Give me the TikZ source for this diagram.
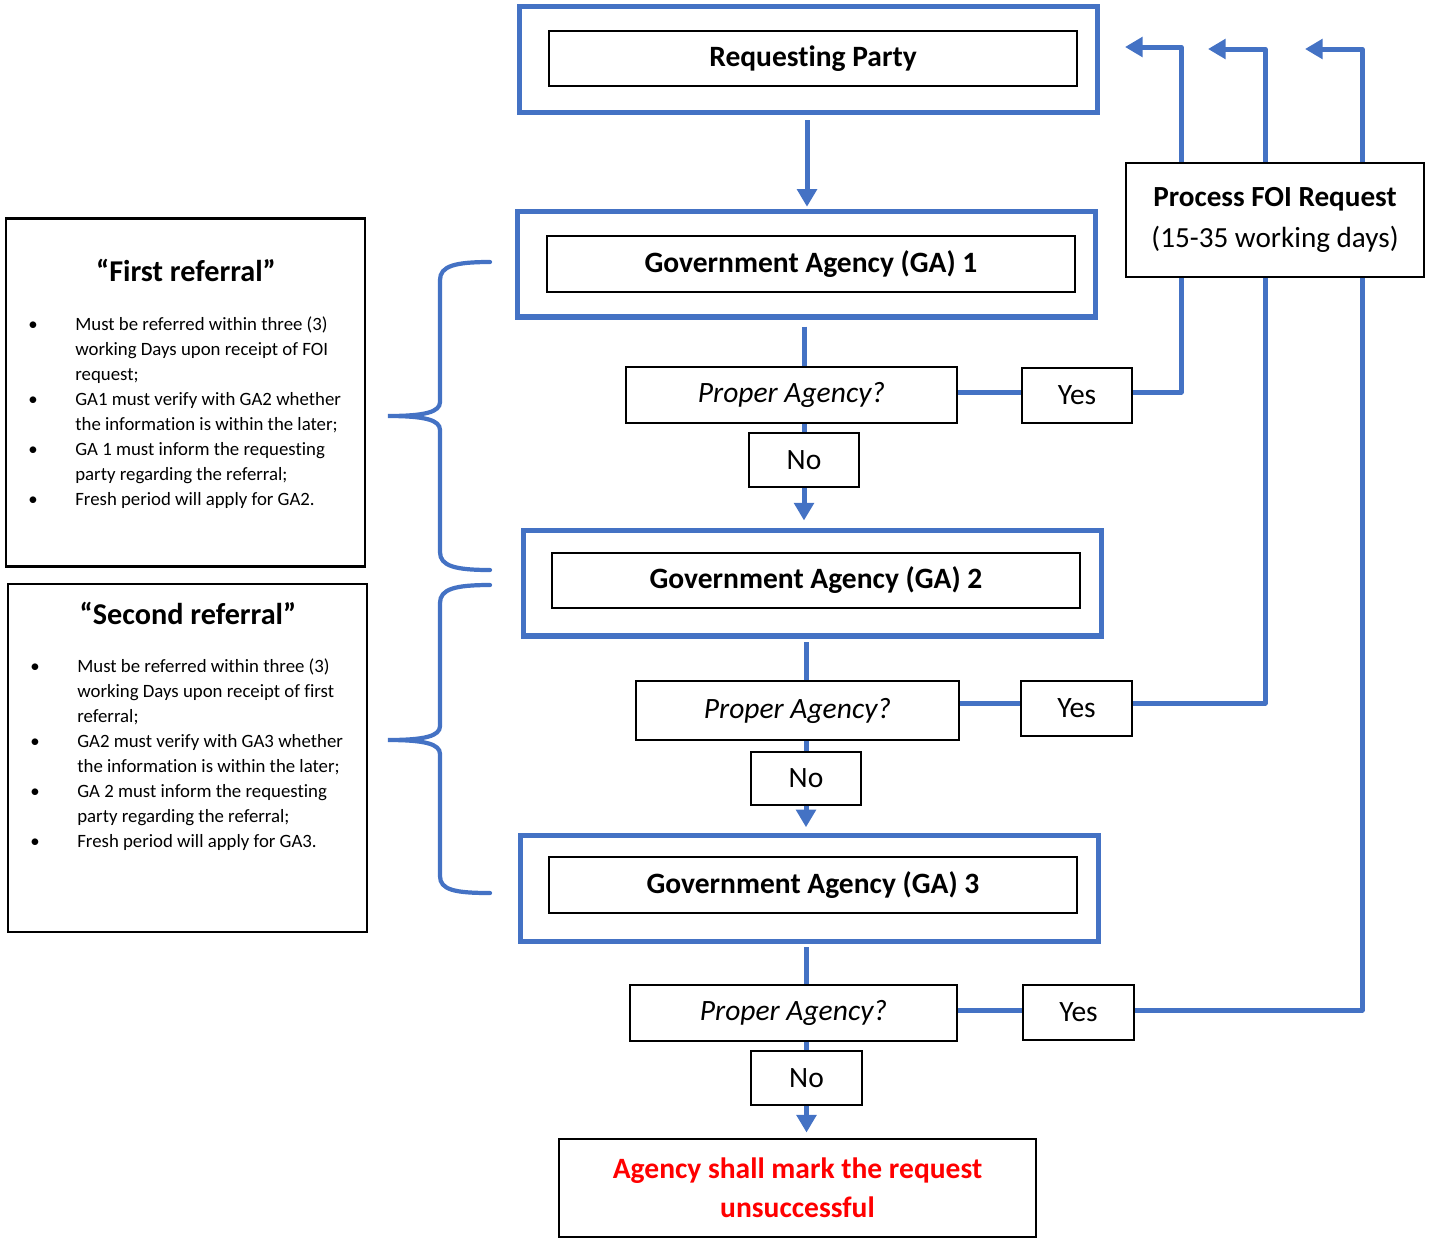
\documentclass[tikz,border=0pt]{standalone}
\usepackage{fontspec}
\setmainfont[Ligatures=NoCommon]{Carlito}
\usetikzlibrary{arrows.meta,calc}
\definecolor{bl}{HTML}{4472C4}
\definecolor{rd}{HTML}{FF0000}
\begin{document}
\begin{tikzpicture}[x=0.02cm,y=-0.02cm,
 outerbox/.style={draw=bl,line width=2.85pt,minimum width=11.58cm,minimum height=2.12cm,inner sep=0},
 innerbox/.style={draw=black,line width=1.4pt,minimum width=10.56cm,minimum height=1.12cm,font=\fontsize{16.8}{20}\selectfont\bfseries,inner sep=0},
 qbox/.style={draw=black,line width=1.4pt,minimum height=1.12cm,font=\fontsize{16.8}{20}\selectfont\itshape,inner sep=0,fill=white},
 ansbox/.style={draw=black,line width=1.4pt,minimum width=2.2cm,minimum height=1.08cm,font=\fontsize{16.8}{20}\selectfont,inner sep=0,fill=white},
 bline/.style={draw=bl,line width=2.85pt},
 barrow/.style={bline,-{Triangle[length=10pt,width=11pt]}},
 bracestyle/.style={draw=bl,line width=2.4pt},
 textbox/.style={draw=black,line width=1.4pt,minimum width=7.18cm,minimum height=6.97cm,inner sep=0},
 titletext/.style={font=\fontsize{17.2}{20}\selectfont\bfseries,inner sep=0},
 bullettext/.style={font=\fontsize{10.7}{14.2}\selectfont,inner sep=0,anchor=north west},
]
\useasboundingbox (0,0) rectangle (1439,1238);

% main column
\node[outerbox] (rpo) at (808.5,59.5) {};
\node[innerbox,minimum height=1.1cm] (rp) at (813,58.5) {Requesting Party};

\node[outerbox] (ga1o) at (806.5,264) {};
\node[innerbox] (ga1) at (811,264) {Government Agency (GA) 1};

\node[outerbox] (ga2o) at (812.5,583) {};
\node[innerbox,minimum height=1.1cm] (ga2) at (816,580.5) {Government Agency (GA) 2};

\node[outerbox] (ga3o) at (809.5,888) {};
\node[innerbox] (ga3) at (813,885) {Government Agency (GA) 3};

\node[qbox,minimum width=6.62cm] (p1) at (791.5,395) {Proper Agency?};
\node[ansbox,minimum height=1.1cm] (y1) at (1077,395.5) {Yes};
\node[ansbox] (n1) at (804,460) {No};

\node[qbox,minimum width=6.46cm,minimum height=1.18cm] (p2) at (797.5,710.5) {Proper Agency?};
\node[ansbox,minimum width=2.22cm,minimum height=1.1cm] (y2) at (1076.5,708.5) {Yes};
\node[ansbox,minimum height=1.06cm] (n2) at (806,778.5) {No};

\node[qbox,minimum width=6.54cm] (p3) at (793.5,1013) {Proper Agency?};
\node[ansbox,minimum width=2.22cm,minimum height=1.1cm] (y3) at (1078.5,1012.5) {Yes};
\node[ansbox,minimum width=2.22cm] (n3) at (806.5,1078) {No};

\node[draw=black,line width=1.4pt,minimum width=9.54cm,minimum height=1.96cm,inner sep=0,
  align=center,text=rd,font=\fontsize{16.8}{22}\selectfont\bfseries] (fin) at (797.5,1188)
  {Agency shall mark the request\\unsuccessful};

% return targets
\coordinate (t1) at (1125,47);
\coordinate (c1) at (1181,47);
\coordinate (t2) at (1208,49);
\coordinate (c2) at (1265,49);
\coordinate (t3) at (1305,49);
\coordinate (c3) at (1362,49);

% connectors
\draw[barrow,shorten <=3pt,shorten >=1pt] (rpo.south -| 807,0) -- (ga1o.north -| 807,0);
\draw[bline,shorten <=4pt] (ga1o.south -| n1.center) -- (p1.north -| n1.center);
\draw[bline] (p1.south -| n1.center) -- (n1.north);
\draw[barrow,shorten >=4pt] (n1.south) -- (ga2o.north -| n1.south);

\draw[bline,shorten <=2pt] (ga2o.south -| n2.center) -- (p2.north -| n2.center);
\draw[bline] (p2.south -| n2.center) -- (n2.north);
\draw[barrow,shorten >=3pt] (n2.south) -- (ga3o.north -| n2.south);

\draw[bline,shorten <=2pt] (ga3o.south -| n3.center) -- (p3.north -| n3.center);
\draw[bline] (p3.south -| n3.center) -- (n3.north);
\draw[barrow,shorten >=3pt] (n3.south) -- (fin.north -| n3.south);

\draw[bline] (p1.east |- 0,392) -- (y1.west |- 0,392);
\draw[bline] (p2.east |- 0,703) -- (y2.west |- 0,703);
\draw[bline] (p3.east |- 0,1010) -- (y3.west |- 0,1010);

\draw[barrow,line join=round] (y1.east |- 0,392) -| (c1) -- (t1);
\draw[barrow,line join=round] (y2.east |- 0,703) -| (c2) -- (t2);
\draw[barrow,line join=round] (y3.east |- 0,1010) -| (c3) -- (t3);

% process box (drawn over the return lines)
\node[draw=black,line width=1.4pt,fill=white,minimum width=5.96cm,minimum height=2.28cm,inner sep=0,
  align=center,font=\fontsize{16.6}{23.2}\selectfont] (foi) at (1275,220)
  {\textbf{Process FOI Request}\\(15-35 working days)};

% braces
\draw[bracestyle,line cap=round] (490,262) .. controls (455,262) and (440,266) .. (440,280) -- (440,402)
  .. controls (440,412) and (425,416) .. (388,416) .. controls (425,416) and (440,420) .. (440,430)
  -- (440,552) .. controls (440,566) and (455,570) .. (490,570);
\draw[bracestyle,line cap=round] (490,585) .. controls (455,585) and (440,589) .. (440,603) -- (440,726)
  .. controls (440,736) and (425,740) .. (388,740) .. controls (425,740) and (440,744) .. (440,754)
  -- (440,876) .. controls (440,890) and (455,893) .. (490,893);

% left boxes
\node[textbox] (lb1) at (185.5,392.5) {};
\node[titletext] (lt1) at (186,270) {“First referral”};
\node[bullettext] (ll1) at (28,313) {%
  \begin{tabular}{@{}p{0.94cm}@{}l@{}}
  \textbullet & Must be referred within three (3)\\
   & working Days upon receipt of FOI\\
   & request;\\
  \textbullet & GA1 must verify with GA2 whether\\
   & the information is within the later;\\
  \textbullet & GA 1 must inform the requesting\\
   & party regarding the referral;\\
  \textbullet & Fresh period will apply for GA2.
  \end{tabular}};

\node[textbox,minimum height=6.96cm] (lb2) at (187.5,758) {};
\node[titletext] (lt2) at (188,613) {“Second referral”};
\node[bullettext] (ll2) at (30,655) {%
  \begin{tabular}{@{}p{0.94cm}@{}l@{}}
  \textbullet & Must be referred within three (3)\\
   & working Days upon receipt of first\\
   & referral;\\
  \textbullet & GA2 must verify with GA3 whether\\
   & the information is within the later;\\
  \textbullet & GA 2 must inform the requesting\\
   & party regarding the referral;\\
  \textbullet & Fresh period will apply for GA3.
  \end{tabular}};
\end{tikzpicture}
\end{document}
